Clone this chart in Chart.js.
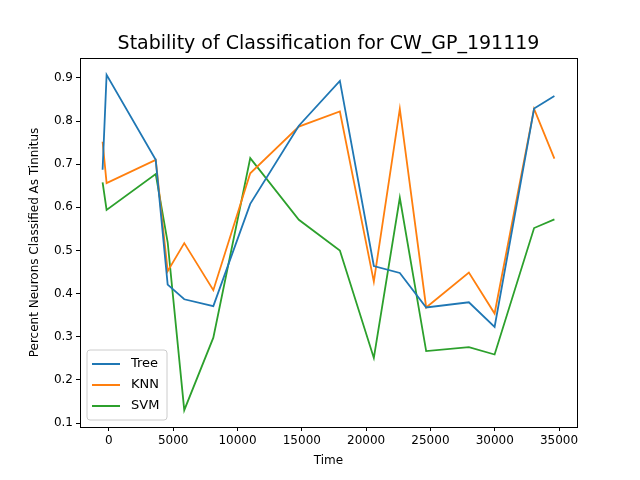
<!DOCTYPE html>
<html>
<head>
<meta charset="utf-8">
<script src="https://cdn.jsdelivr.net/npm/chart.js@4"></script>
<style>
  body { margin: 0; background: #fff; }
  #wrap { width: 640px; height: 480px; }
</style>
</head>
<body>
<div id="wrap"><canvas id="chart"></canvas></div>
<script>
const times = [-490, -179, 3640, 4570, 5860, 8120, 10990, 14770, 17960, 20600, 22620, 24670, 27990, 29990, 33060, 34640];
const tree = [0.687, 0.907, 0.710, 0.421, 0.387, 0.371, 0.608, 0.789, 0.893, 0.464, 0.448, 0.368, 0.380, 0.323, 0.829, 0.858];
const knn = [0.752, 0.656, 0.710, 0.452, 0.517, 0.408, 0.679, 0.787, 0.822, 0.428, 0.828, 0.368, 0.449, 0.354, 0.828, 0.713];
const svm = [0.658, 0.594, 0.677, 0.519, 0.130, 0.298, 0.714, 0.571, 0.500, 0.251, 0.622, 0.267, 0.276, 0.259, 0.552, 0.572];
const xTicks = [0, 5000, 10000, 15000, 20000, 25000, 30000, 35000];
const yTicks = [0.1, 0.2, 0.3, 0.4, 0.5, 0.6, 0.7, 0.8, 0.9];
const titleText = "Stability of Classification for CW_GP_191119";

const font = "DejaVu Sans";
const series = [
  { label: "Tree", data: tree, color: "#1f77b4" },
  { label: "KNN", data: knn, color: "#ff7f0e" },
  { label: "SVM", data: svm, color: "#2ca02c" }
];

// frame, title and legend box drawn matplotlib style
const extras = {
  id: "extras",
  afterDraw(chart) {
    const { ctx, chartArea } = chart;
    ctx.save();
    ctx.strokeStyle = "#000";
    ctx.lineWidth = 1;
    ctx.strokeRect(chartArea.left + 0.5, chartArea.top + 0.5,
      chartArea.right - chartArea.left, chartArea.bottom - chartArea.top);

    ctx.fillStyle = "#000";
    ctx.font = "19px '" + font + "'";
    ctx.textAlign = "center";
    ctx.textBaseline = "alphabetic";
    ctx.fillText(titleText, (chartArea.left + chartArea.right) / 2, 49);

    const x = chartArea.left + 7, h = 70, y = chartArea.bottom - 7 - h;
    ctx.fillStyle = "rgba(255,255,255,0.8)";
    ctx.strokeStyle = "#cccccc";
    ctx.beginPath();
    ctx.roundRect(x, y, 80, h, 3);
    ctx.fill();
    ctx.stroke();
    ctx.font = "13px '" + font + "'";
    ctx.textAlign = "left";
    ctx.textBaseline = "middle";
    series.forEach((s, i) => {
      const ly = y + 14 + i * 21;
      ctx.strokeStyle = s.color;
      ctx.lineWidth = 2;
      ctx.beginPath();
      ctx.moveTo(x + 5, ly);
      ctx.lineTo(x + 33, ly);
      ctx.stroke();
      ctx.fillStyle = "#000";
      ctx.fillText(s.label, x + 44, ly);
    });
    ctx.restore();
  }
};

const tickGrid = { display: true, drawOnChartArea: false, drawTicks: true, tickLength: 4, color: "#000" };

new Chart(document.getElementById("chart"), {
  type: "line",
  data: {
    datasets: series.map(s => ({
      label: s.label,
      data: times.map((t, i) => ({ x: t, y: s.data[i] })),
      borderColor: s.color,
      borderWidth: 1.8,
      pointRadius: 0,
      tension: 0
    }))
  },
  options: {
    responsive: true,
    maintainAspectRatio: false,
    animation: false,
    layout: { padding: { left: 26, right: 63, top: 58, bottom: 10 } },
    plugins: {
      legend: { display: false },
      tooltip: { enabled: false },
      title: { display: false }
    },
    scales: {
      x: {
        type: "linear",
        min: -2247,
        max: 36397,
        afterBuildTicks: axis => { axis.ticks = xTicks.map(v => ({ value: v })); },
        afterFit: axis => { axis.height = 43; },
        grid: tickGrid,
        border: { color: "#000" },
        ticks: { color: "#000", font: { family: font, size: 12 }, padding: 3, callback: v => String(v) },
        title: { display: true, text: "Time", color: "#000", font: { family: font, size: 12 }, padding: 2 }
      },
      y: {
        min: 0.091,
        max: 0.946,
        afterBuildTicks: axis => { axis.ticks = yTicks.map(v => ({ value: v })); },
        afterFit: axis => { axis.width = 54; },
        grid: tickGrid,
        border: { color: "#000" },
        ticks: { color: "#000", font: { family: font, size: 12 }, padding: 3, callback: v => v.toFixed(1) },
        title: { display: true, text: "Percent Neurons Classified As Tinnitus", color: "#000", font: { family: font, size: 12 }, padding: 2 }
      }
    }
  },
  plugins: [extras]
});
</script>
</body>
</html>
